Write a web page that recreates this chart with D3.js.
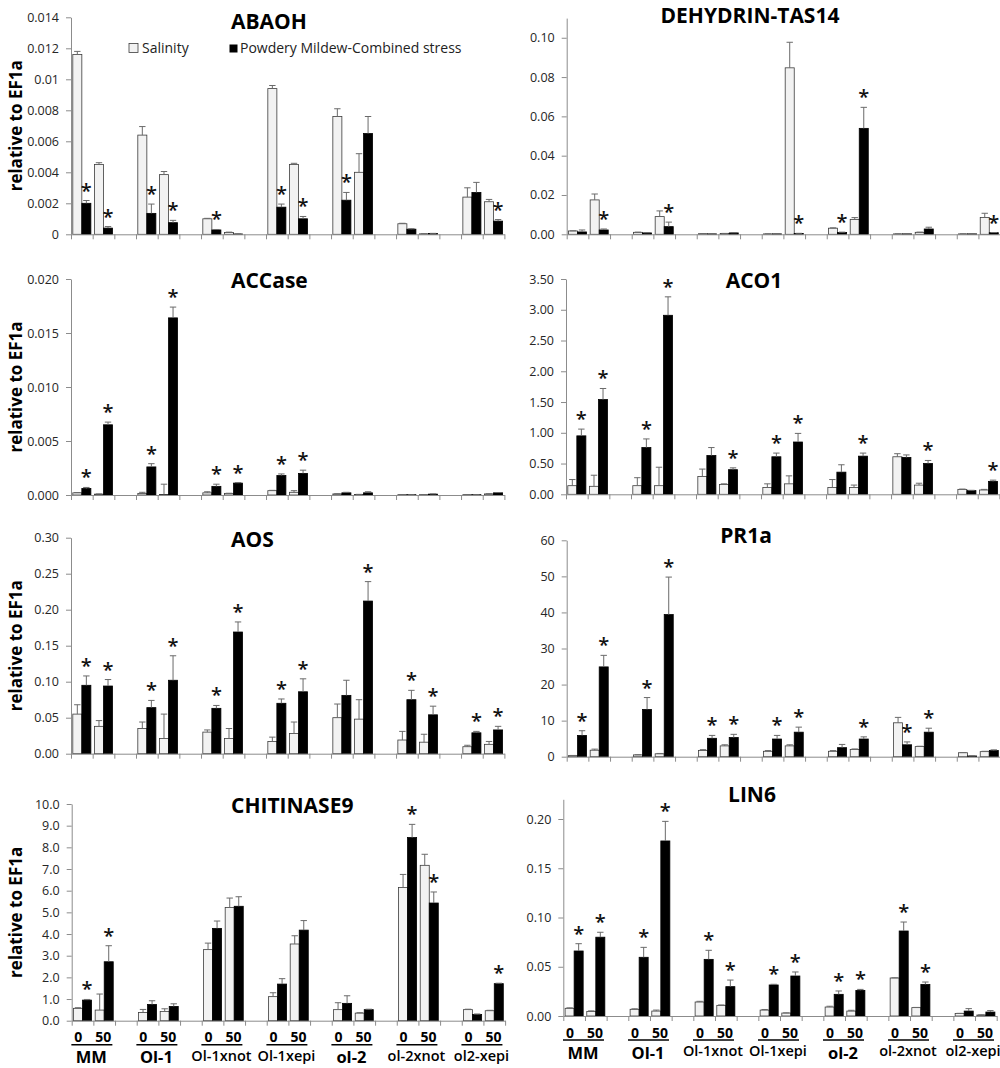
<!DOCTYPE html>
<html><head><meta charset="utf-8">
<script src="https://cdn.jsdelivr.net/npm/d3@7"></script>
<style>body{margin:0;background:#fff} svg{display:block;font-family:"Open Sans",sans-serif}</style>
</head><body><svg id="c" width="1000" height="1068"></svg>
<script>
// ---------- categories ----------
const genotypes = ["MM","Ol-1","Ol-1xnot","Ol-1xepi","ol-2","ol-2xnot","ol2-xepi"];
const boldGenotypes = ["MM","Ol-1","ol-2"];
const doses = ["0","50"];
const seriesNames = ["Salinity","Powdery Mildew-Combined stress"];

// ---------- data (order: genotype x dose 0/50) ----------
const abaohSal     = [0.0116,0.0045,0.0064,0.00385,0.0010,0.00012,0.0094,0.0045,0.0076,0.0040,0.00068,0.00003,0.0024,0.0021];
const abaohSalErr  = [0.0002,0.00012,0.00055,0.0002,0.00003,0.00002,0.0002,0.00008,0.0005,0.0012,0.00003,0.00001,0.0006,0.00015];
const abaohComb    = [0.0020,0.0004,0.00135,0.00075,0.00028,0.00002,0.00175,0.0010,0.0022,0.0065,0.00033,0.00005,0.0027,0.00085];
const abaohCombErr = [0.00018,0.0001,0.0006,0.00015,0.00003,0.00001,0.0002,0.00015,0.0005,0.0011,0.00003,0.00001,0.00065,0.0001];
const abaohSig     = [1,1,1,1,1,0,1,1,1,0,0,0,0,1];

const dehySal     = [0.0017,0.0175,0.0010,0.0090,0.0003,0.0004,0.0002,0.0847,0.0031,0.0076,0.0002,0.0010,0.0002,0.0086];
const dehySalErr  = [0.0001,0.003,0.0001,0.0029,0.00005,0.00005,0.00005,0.013,0.0002,0.0009,0.00005,0.0001,0.00005,0.0021];
const dehyComb    = [0.0012,0.0022,0.0007,0.0039,0.0002,0.0007,0.0002,0.0004,0.0009,0.0539,0.0002,0.0027,0.0002,0.0008];
const dehyCombErr = [0.001,0.0005,0.0001,0.0023,0.00005,0.0001,0.00005,0.0001,0.0002,0.0107,0.00005,0.0009,0.00005,0.0001];
const dehySig     = [0,1,0,1,0,0,0,1,1,1,0,0,0,1];

const accSal     = [0.0002,0.00008,0.00015,0.00005,0.0002,0.00015,0.0004,0.00025,0.0001,0.00005,0.00003,0.00003,0.00003,0.0001];
const accSalErr  = [0.00003,0.00002,0.0001,0.00095,0.0001,0.00001,0.00003,0.00015,0.00002,0.00001,0.00001,0.00001,0.00001,0.00002];
const accComb    = [0.0006,0.0065,0.0026,0.0164,0.0008,0.0011,0.0018,0.0020,0.0002,0.0002,0.00003,0.00008,0.00003,0.0002];
const accCombErr = [0.0001,0.00025,0.0003,0.001,0.0002,0.00005,0.00015,0.0003,0.00005,0.0001,0.00001,0.00002,0.00001,0.00003];
const accSig     = [1,1,1,1,1,1,1,1,0,0,0,0,0,0];

const aco1Sal     = [0.14,0.13,0.14,0.14,0.29,0.16,0.11,0.17,0.11,0.11,0.61,0.15,0.08,0.07];
const aco1SalErr  = [0.10,0.18,0.13,0.30,0.12,0.01,0.06,0.13,0.13,0.04,0.05,0.03,0.005,0.01];
const aco1Comb    = [0.95,1.54,0.76,2.91,0.63,0.40,0.61,0.85,0.36,0.62,0.60,0.50,0.06,0.21];
const aco1CombErr = [0.11,0.18,0.14,0.30,0.13,0.03,0.06,0.14,0.12,0.05,0.04,0.05,0.005,0.02];
const aco1Sig     = [1,1,1,1,0,1,1,1,0,1,0,1,0,1];

const aosSal     = [0.055,0.038,0.035,0.021,0.030,0.021,0.017,0.028,0.050,0.048,0.019,0.016,0.0097,0.013];
const aosSalErr  = [0.013,0.008,0.009,0.034,0.003,0.014,0.006,0.016,0.019,0.027,0.012,0.011,0.002,0.004];
const aosComb    = [0.095,0.094,0.064,0.102,0.063,0.169,0.070,0.086,0.081,0.212,0.075,0.054,0.029,0.033];
const aosCombErr = [0.013,0.009,0.010,0.034,0.004,0.014,0.006,0.018,0.021,0.027,0.013,0.012,0.002,0.005];
const aosSig     = [1,1,1,1,1,1,1,1,0,1,1,1,1,1];

const pr1aSal     = [0.3,1.8,0.5,0.8,1.7,3.0,1.5,3.0,1.5,2.0,9.4,2.8,1.1,1.4];
const pr1aSalErr  = [0.05,0.3,0.05,0.1,0.25,0.3,0.2,0.3,0.2,0.15,1.5,0.1,0.05,0.1];
const pr1aComb    = [5.9,24.9,13.1,39.4,5.1,5.3,4.9,6.8,2.5,4.9,3.3,6.8,0.2,1.7];
const pr1aCombErr = [1.3,3.2,3.3,10.4,0.8,0.9,1.0,1.4,0.9,0.6,0.8,1.1,0.05,0.2];
const pr1aSig     = [1,1,1,1,1,1,1,1,0,1,1,1,0,0];

const chiSal     = [0.57,0.49,0.38,0.43,3.28,5.22,1.11,3.54,0.51,0.35,6.15,7.17,0.51,0.46];
const chiSalErr  = [0.03,0.74,0.14,0.12,0.30,0.44,0.18,0.38,0.32,0.02,0.60,0.51,0.02,0.02];
const chiComb    = [0.95,2.72,0.75,0.66,4.26,5.28,1.69,4.18,0.80,0.51,8.45,5.43,0.29,1.71];
const chiCombErr = [0.03,0.74,0.17,0.12,0.34,0.44,0.25,0.44,0.35,0.02,0.61,0.51,0.02,0.02];
const chiSig     = [1,1,0,0,0,0,0,0,0,0,1,1,0,1];

const lin6Sal     = [0.0078,0.0047,0.0068,0.005,0.0142,0.0108,0.006,0.003,0.0091,0.005,0.0386,0.0085,0.0025,0.001];
const lin6SalErr  = [0.0005,0.0005,0.0005,0.001,0.0007,0.0004,0.0006,0.0002,0.0008,0.0008,0.0002,0.0002,0.0002,0.0002];
const lin6Comb    = [0.066,0.080,0.0596,0.1777,0.0575,0.0298,0.0315,0.0406,0.022,0.026,0.0863,0.0321,0.005,0.004];
const lin6CombErr = [0.0074,0.005,0.0101,0.0199,0.0092,0.0067,0.0007,0.0041,0.0034,0.001,0.0091,0.0024,0.0025,0.0015];
const lin6Sig     = [1,1,1,1,1,1,1,1,1,1,1,1,0,0];

// ---------- tick values / labels ----------
const abaohTicks = [0,0.002,0.004,0.006,0.008,0.010,0.012,0.014];
const abaohTickLabels = ["0","0.002","0.004","0.006","0.008","0.01","0.012","0.014"];
const dehyTicks = [0,0.02,0.04,0.06,0.08,0.10];
const dehyTickLabels = ["0.00","0.02","0.04","0.06","0.08","0.10"];
const accTicks = [0,0.005,0.010,0.015,0.020];
const accTickLabels = ["0.000","0.005","0.010","0.015","0.020"];
const aco1Ticks = [0,0.5,1,1.5,2,2.5,3,3.5];
const aco1TickLabels = ["0.00","0.50","1.00","1.50","2.00","2.50","3.00","3.50"];
const aosTicks = [0,0.05,0.10,0.15,0.20,0.25,0.30];
const aosTickLabels = ["0.00","0.05","0.10","0.15","0.20","0.25","0.30"];
const pr1aTicks = [0,10,20,30,40,50,60];
const pr1aTickLabels = ["0","10","20","30","40","50","60"];
const chiTicks = [0,1,2,3,4,5,6,7,8,9,10];
const chiTickLabels = ["0.0","1.0","2.0","3.0","4.0","5.0","6.0","7.0","8.0","9.0","10.0"];
const lin6Ticks = [0,0.05,0.10,0.15,0.20];
const lin6TickLabels = ["0.00","0.05","0.10","0.15","0.20"];

// ---------- panels ----------
const panels = [
 {title:"ABAOH", sal:abaohSal, salErr:abaohSalErr, comb:abaohComb, combErr:abaohCombErr, sig:abaohSig, max:0.014, ticks:abaohTicks, labels:abaohTickLabels,
  x0:71, base:234.3, top:17.3, tx:231, ty:29, anchor:"start", ylab:true, legend:true, xlab:false},
 {title:"DEHYDRIN-TAS14", sal:dehySal, salErr:dehySalErr, comb:dehyComb, combErr:dehyCombErr, sig:dehySig, max:0.11, ticks:dehyTicks, labels:dehyTickLabels,
  x0:566.7, base:234.3, top:18.1, tx:750, ty:22.5, anchor:"middle", ylab:false, legend:false, xlab:false},
 {title:"ACCase", sal:accSal, salErr:accSalErr, comb:accComb, combErr:accCombErr, sig:accSig, max:0.020, ticks:accTicks, labels:accTickLabels,
  x0:71, base:495, top:279, tx:231, ty:288, anchor:"start", ylab:true, legend:false, xlab:false},
 {title:"ACO1", sal:aco1Sal, salErr:aco1SalErr, comb:aco1Comb, combErr:aco1CombErr, sig:aco1Sig, max:3.5, ticks:aco1Ticks, labels:aco1TickLabels,
  x0:566, base:494.3, top:279, tx:754, ty:288, anchor:"middle", ylab:false, legend:false, xlab:false},
 {title:"AOS", sal:aosSal, salErr:aosSalErr, comb:aosComb, combErr:aosCombErr, sig:aosSig, max:0.30, ticks:aosTicks, labels:aosTickLabels,
  x0:71, base:753.7, top:537.7, tx:231, ty:547, anchor:"start", ylab:true, legend:false, xlab:false},
 {title:"PR1a", sal:pr1aSal, salErr:pr1aSalErr, comb:pr1aComb, combErr:pr1aCombErr, sig:pr1aSig, max:60, ticks:pr1aTicks, labels:pr1aTickLabels,
  x0:566.7, base:756.7, top:540.3, tx:746, ty:543, anchor:"middle", ylab:false, legend:false, xlab:false},
 {title:"CHITINASE9", sal:chiSal, salErr:chiSalErr, comb:chiComb, combErr:chiCombErr, sig:chiSig, max:10, ticks:chiTicks, labels:chiTickLabels,
  x0:71.7, base:1020.7, top:804, tx:231, ty:813, anchor:"start", ylab:true, legend:false, xlab:true},
 {title:"LIN6", sal:lin6Sal, salErr:lin6SalErr, comb:lin6Comb, combErr:lin6CombErr, sig:lin6Sig, max:0.22, ticks:lin6Ticks, labels:lin6TickLabels,
  x0:563.3, base:1016, top:799.3, tx:752, ty:802, anchor:"middle", ylab:false, legend:false, xlab:true}
];

const svg = d3.select("#c");
svg.append("rect").attr("width",1000).attr("height",1068).attr("fill","#fff");
const SLOT = 21.67, NSLOT = 20;
const axisColor = "#8c8c8c";

panels.forEach(p => {
  const g = svg.append("g");
  const slotScale = d3.scaleBand().domain(d3.range(NSLOT)).range([p.x0, p.x0 + SLOT*NSLOT]).padding(0);
  const inner = d3.scaleBand().domain([0,1]).range([1.8, SLOT-1.8]).padding(0);
  const y = d3.scaleLinear().domain([0, p.max]).range([p.base, p.top]);
  const edge = d3.scaleLinear().domain([0, NSLOT]).range([p.x0, p.x0 + SLOT*NSLOT]);

  // bars
  const rows = [];
  genotypes.forEach((gt, gi) => doses.forEach((ds, di) => {
    const k = gi*2 + di, slot = gi*3 + di;
    rows.push({slot, s:0, v:p.sal[k], e:p.salErr[k], sig:0});
    rows.push({slot, s:1, v:p.comb[k], e:p.combErr[k], sig:p.sig[k]});
  }));
  const bx = d => slotScale(d.slot) + inner(d.s);
  const bw = inner.bandwidth();

  g.selectAll("rect.bar").data(rows).join("rect")
    .attr("x", d => bx(d)).attr("width", bw)
    .attr("y", d => y(d.v)).attr("height", d => Math.max(0, p.base - y(d.v)))
    .attr("fill", d => d.s ? "#000" : "#f2f2f2")
    .attr("stroke", d => d.s ? "#000" : "#3c3c3c").attr("stroke-width", 0.8);

  // error bars
  const eg = g.append("g").attr("stroke", "#6a6a6a").attr("stroke-width", 1).attr("fill","none");
  rows.forEach(d => {
    const cx = bx(d) + bw/2, y1 = y(d.v), y2 = y(d.v + d.e);
    eg.append("line").attr("x1", cx).attr("x2", cx).attr("y1", y1).attr("y2", y2);
    eg.append("line").attr("x1", cx-3.2).attr("x2", cx+3.2).attr("y1", y2).attr("y2", y2);
  });

  // asterisks
  g.selectAll("text.sig").data(rows.filter(d => d.sig)).join("text")
    .attr("x", d => bx(d) + bw/2).attr("y", d => y(d.v + d.e) - 3)
    .attr("text-anchor","middle").attr("font-size", 20).attr("font-weight", 600).attr("fill","#111").text("*");

  // y axis
  const ya = g.append("g").attr("transform", `translate(${p.x0},0)`)
    .call(d3.axisLeft(y).tickValues(p.ticks).tickFormat((d,i)=>p.labels[i]).tickSize(5).tickSizeOuter(0).tickPadding(7));
  ya.select(".domain").attr("stroke", axisColor);
  ya.selectAll(".tick line").attr("stroke", axisColor);
  ya.selectAll(".tick text").attr("font-family","Open Sans").attr("font-size",12.5).attr("fill","#262626");

  // x axis
  const xa = g.append("g").attr("transform", `translate(0,${p.base})`)
    .call(d3.axisBottom(edge).tickValues(d3.range(NSLOT+1)).tickFormat("").tickSize(5).tickSizeOuter(0));
  xa.select(".domain").attr("stroke", axisColor);
  xa.selectAll(".tick line").attr("stroke", axisColor);

  // title
  g.append("text").attr("x", p.tx).attr("y", p.ty).attr("text-anchor", p.anchor)
    .attr("font-size", 21).attr("font-weight", 700).attr("fill","#000").text(p.title);

  if (p.ylab) {
    g.append("text").attr("transform", `translate(22,${(p.base + p.top)/2}) rotate(-90)`)
      .attr("text-anchor","middle").attr("font-size",17).attr("font-weight",700).attr("fill","#000")
      .text("relative to EF1a");
  }

  if (p.legend) {
    const lg = g.append("g");
    lg.append("rect").attr("x",129).attr("y",43.5).attr("width",9).attr("height",9).attr("fill","#f2f2f2").attr("stroke","#3c3c3c").attr("stroke-width",0.8);
    lg.append("text").attr("x",142).attr("y",53).attr("font-size",14).attr("fill","#222").text(seriesNames[0]);
    lg.append("rect").attr("x",229.5).attr("y",44.5).attr("width",8).attr("height",8).attr("fill","#000");
    lg.append("text").attr("x",240).attr("y",53).attr("font-size",14).attr("fill","#222").text(seriesNames[1]);
  }

  if (p.xlab) {
    const xl = g.append("g");
    genotypes.forEach((gt, gi) => {
      const c = slotScale(gi*3) + SLOT;
      xl.append("text").attr("x", c-15).attr("y", p.base+21.5).attr("text-anchor","middle")
        .attr("font-size",14).attr("font-weight",700).text(doses[0]);
      xl.append("text").attr("x", c+10).attr("y", p.base+21.5).attr("text-anchor","middle")
        .attr("font-size",14).attr("font-weight",700).text(doses[1]);
      xl.append("line").attr("x1", c-22).attr("x2", c+19).attr("y1", p.base+24).attr("y2", p.base+24)
        .attr("stroke","#000").attr("stroke-width",1.6);
      const big = boldGenotypes.includes(gt);
      xl.append("text").attr("x", c-2).attr("y", p.base + (big ? 42.5 : 40)).attr("text-anchor","middle")
        .attr("font-size", big ? 16.5 : 14.5).attr("font-weight", big ? 700 : 600).text(gt);
    });
  }
});
</script>
</body></html>
